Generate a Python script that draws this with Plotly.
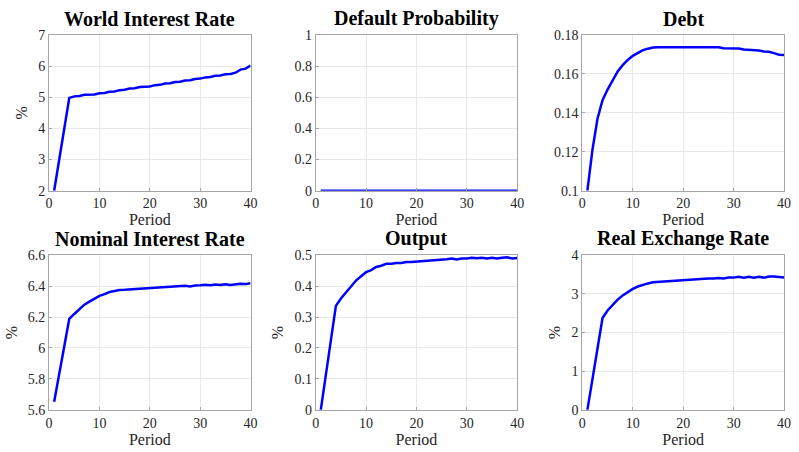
import plotly.graph_objects as go

periods = list(range(1, 41))

world_rate = [2.0, 3.0, 4.0, 4.98, 5.03, 5.04, 5.08, 5.09, 5.09, 5.13,
              5.14, 5.18, 5.19, 5.23, 5.24, 5.28, 5.29, 5.33, 5.34, 5.35,
              5.39, 5.40, 5.44, 5.45, 5.49, 5.50, 5.54, 5.55, 5.59, 5.60,
              5.64, 5.65, 5.69, 5.70, 5.74, 5.75, 5.79, 5.89, 5.92, 6.02]

default_prob = [0.0] * 40

debt = [0.100, 0.121, 0.137, 0.1465, 0.152, 0.157, 0.1613, 0.1645, 0.1672, 0.1693,
        0.1707, 0.1722, 0.1730, 0.1736, 0.1737, 0.1737, 0.1737, 0.1737, 0.1737, 0.1737,
        0.1737, 0.1737, 0.1737, 0.1737, 0.1737, 0.1737, 0.1737, 0.1732, 0.1732, 0.1732,
        0.1731, 0.1726, 0.1725, 0.1721, 0.1720, 0.1715, 0.1714, 0.1707, 0.1699, 0.1697]

nominal_rate = [5.652, 5.83, 6.01, 6.188, 6.22, 6.25, 6.28, 6.30, 6.32, 6.337,
                6.348, 6.362, 6.368, 6.375, 6.376, 6.378, 6.380, 6.383, 6.384, 6.386,
                6.388, 6.390, 6.393, 6.395, 6.397, 6.398, 6.402, 6.398, 6.404, 6.405,
                6.409, 6.406, 6.411, 6.407, 6.412, 6.408, 6.414, 6.416, 6.413, 6.418]

output = [0.0, 0.11, 0.22, 0.336, 0.36, 0.38, 0.40, 0.418, 0.432, 0.445,
          0.452, 0.462, 0.466, 0.472, 0.472, 0.475, 0.475, 0.478, 0.478, 0.479,
          0.481, 0.482, 0.484, 0.485, 0.486, 0.487, 0.489, 0.486, 0.489, 0.489,
          0.492, 0.490, 0.492, 0.489, 0.492, 0.489, 0.492, 0.493, 0.489, 0.491]

real_exchange = [0.0, 0.8, 1.6, 2.375, 2.57, 2.72, 2.85, 2.96, 3.05, 3.13,
                 3.19, 3.24, 3.27, 3.30, 3.31, 3.32, 3.33, 3.34, 3.345, 3.35,
                 3.36, 3.37, 3.38, 3.39, 3.395, 3.40, 3.41, 3.40, 3.42, 3.42,
                 3.44, 3.42, 3.44, 3.42, 3.44, 3.42, 3.45, 3.45, 3.44, 3.42]

titles = ["World Interest Rate", "Default Probability", "Debt",
          "Nominal Interest Rate", "Output", "Real Exchange Rate"]
series = [world_rate, default_prob, debt, nominal_rate, output, real_exchange]
y_ranges = [[2, 7], [0, 1], [0.1, 0.18], [5.6, 6.6], [0, 0.5], [0, 4]]
y_dticks = [1, 0.2, 0.02, 0.2, 0.1, 1]
y_labels = ["%", "", "", "%", "%", "%"]

W, H = 799, 452
x_px = [(46.7, 250.7), (316.7, 520.7), (586.7, 791.0)]
y_px = [(29.0, 190.0), (256.7, 416.7)]

FONT = "Liberation Serif, Times New Roman, serif"
TXT = "#262626"
fig = go.Figure()
layout_axes = {}

for i in range(6):
    r, c = divmod(i, 3)
    suffix = "" if i == 0 else str(i + 1)
    xa, ya = "x" + suffix, "y" + suffix
    fig.add_trace(go.Scatter(x=periods, y=series[i], mode="lines",
                             line=dict(color="#0000ff", width=2.5),
                             xaxis=xa, yaxis=ya, showlegend=False,
                             cliponaxis=True))
    xd = [x_px[c][0] / W, x_px[c][1] / W]
    yd = [(H - y_px[r][1]) / H, (H - y_px[r][0]) / H]
    axcommon = dict(showline=True, mirror=True, linecolor="#a6a6a6", linewidth=1,
                    showgrid=True, gridcolor="#e8e8e8", gridwidth=1,
                    ticks="inside", ticklen=3, tickcolor="#a6a6a6",
                    tickfont=dict(family=FONT, size=14, color=TXT),
                    zeroline=False)
    layout_axes["xaxis" + suffix] = dict(
        domain=xd, anchor=ya, range=[0, 40], tickvals=[0, 10, 20, 30, 40],
        title=dict(text="Period", font=dict(family=FONT, size=16, color=TXT), standoff=2),
        **axcommon)
    ydict = dict(domain=yd, anchor=xa, range=y_ranges[i], dtick=y_dticks[i],
                 tick0=y_ranges[i][0], **axcommon)
    if y_labels[i]:
        ydict["title"] = dict(text=y_labels[i], font=dict(family=FONT, size=16, color=TXT), standoff=6)
    layout_axes["yaxis" + suffix] = ydict
    fig.add_annotation(text=f"<b>{titles[i]}</b>", xref="paper", yref="paper",
                       x=(xd[0] + xd[1]) / 2, y=yd[1] + 3 / H, xanchor="center",
                       yanchor="bottom", showarrow=False,
                       font=dict(family=FONT, size=20, color="#000000"))

fig.update_layout(**layout_axes)
fig.update_layout(width=W, height=H, margin=dict(l=0, r=0, t=0, b=0),
                  font=dict(family=FONT, size=14, color=TXT),
                  paper_bgcolor="white", plot_bgcolor="white")

fig.write_html("out.html")
